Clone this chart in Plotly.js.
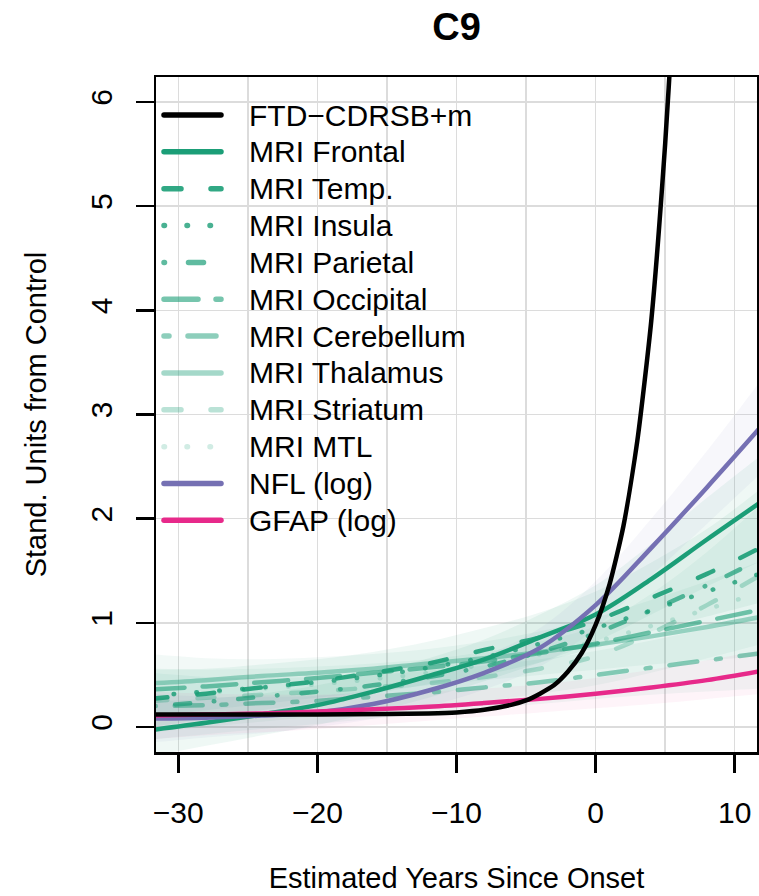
<!DOCTYPE html>
<html>
<head>
<meta charset="utf-8">
<script src="https://cdn.plot.ly/plotly-3.0.1.min.js"></script>
<style>
  html, body { margin: 0; padding: 0; background: #fff; }
  #chart { width: 759px; height: 896px; }
  .scatterlayer path.js-line, .shapelayer path { stroke-linecap: round; stroke-linejoin: round; }
</style>
</head>
<body>
<div id="chart"></div>
<script>
// ---------------- data ----------------
var years = [-32, -28, -24, -20, -16, -12, -8, -4, 0, 4, 8, 12];

var mriFrontal    = [-0.03, 0.04, 0.12, 0.21, 0.34, 0.49, 0.65, 0.86, 1.08, 1.42, 1.80, 2.17];
var mriTemp       = [0.27, 0.32, 0.38, 0.44, 0.52, 0.61, 0.74, 0.86, 1.02, 1.24, 1.47, 1.73];
var mriInsula     = [0.30, 0.34, 0.38, 0.43, 0.49, 0.57, 0.67, 0.80, 0.95, 1.12, 1.30, 1.48];
var mriParietal   = [0.20, 0.24, 0.29, 0.34, 0.40, 0.48, 0.58, 0.72, 0.90, 1.12, 1.36, 1.62];
var mriOccipital  = [0.36, 0.39, 0.43, 0.47, 0.52, 0.57, 0.63, 0.71, 0.80, 0.91, 1.02, 1.13];
var mriCerebellum = [0.20, 0.21, 0.23, 0.25, 0.29, 0.33, 0.38, 0.43, 0.50, 0.57, 0.64, 0.71];
var mriThalamus   = [0.42, 0.45, 0.49, 0.52, 0.56, 0.61, 0.66, 0.72, 0.79, 0.87, 0.96, 1.06];
var mriStriatum   = [0.25, 0.28, 0.31, 0.34, 0.38, 0.42, 0.48, 0.56, 0.68, 0.90, 1.17, 1.47];
var mriMTL        = [0.30, 0.33, 0.37, 0.41, 0.46, 0.52, 0.60, 0.70, 0.82, 0.97, 1.13, 1.30];
var nfl           = [0.08, 0.09, 0.11, 0.14, 0.22, 0.35, 0.52, 0.76, 1.17, 1.72, 2.30, 2.90];
var gfap          = [0.11, 0.12, 0.13, 0.15, 0.17, 0.195, 0.23, 0.27, 0.32, 0.38, 0.45, 0.54];

var cdrYears = [-32, -20, -15, -12, -10, -8, -6, -5, -4, -3, -2, -1, 0, 1, 2, 3, 4, 5, 5.5, 6];
var cdrsb    = [0.12, 0.12, 0.124, 0.13, 0.14, 0.165, 0.215, 0.255, 0.32, 0.40, 0.53, 0.71, 0.98, 1.37, 1.93, 2.75, 3.9, 5.6, 6.7, 7.9];

// credible bands (lower / upper)
var frontalLo = [-0.28, -0.18, -0.08, 0.02, 0.14, 0.28, 0.44, 0.62, 0.82, 1.08, 1.35, 1.60];
var frontalHi = [0.25, 0.27, 0.32, 0.40, 0.52, 0.66, 0.84, 1.08, 1.36, 1.76, 2.20, 2.62];
var tempLo    = [0.00, 0.08, 0.16, 0.24, 0.32, 0.41, 0.50, 0.62, 0.76, 0.92, 1.06, 1.20];
var tempHi    = [0.56, 0.56, 0.60, 0.65, 0.72, 0.82, 0.95, 1.10, 1.30, 1.58, 1.90, 2.30];
var occipLo   = [0.10, 0.16, 0.22, 0.28, 0.34, 0.40, 0.45, 0.50, 0.55, 0.60, 0.64, 0.68];
var occipHi   = [0.70, 0.66, 0.65, 0.67, 0.70, 0.75, 0.82, 0.92, 1.05, 1.22, 1.40, 1.60];
var cerebLo   = [-0.12, -0.07, -0.02, 0.03, 0.08, 0.13, 0.18, 0.22, 0.27, 0.31, 0.34, 0.37];
var cerebHi   = [0.52, 0.48, 0.47, 0.48, 0.50, 0.54, 0.59, 0.65, 0.73, 0.83, 0.94, 1.06];
var striatLo  = [-0.05, 0.00, 0.05, 0.10, 0.15, 0.20, 0.25, 0.32, 0.40, 0.52, 0.66, 0.80];
var striatHi  = [0.55, 0.55, 0.56, 0.58, 0.61, 0.65, 0.72, 0.82, 0.97, 1.28, 1.68, 2.15];
var nflLo     = [-0.15, -0.10, -0.06, 0.00, 0.08, 0.20, 0.36, 0.58, 0.95, 1.45, 1.95, 2.45];
var nflHi     = [0.32, 0.29, 0.29, 0.30, 0.36, 0.50, 0.68, 0.95, 1.40, 2.00, 2.65, 3.35];
var gfapLo    = [-0.12, -0.08, -0.05, -0.02, 0.02, 0.06, 0.10, 0.14, 0.18, 0.22, 0.27, 0.32];
var gfapHi    = [0.34, 0.32, 0.31, 0.31, 0.32, 0.34, 0.37, 0.41, 0.47, 0.55, 0.64, 0.74];

var seriesNames = ["FTD\u2212CDRSB+m", "MRI Frontal", "MRI Temp.", "MRI Insula", "MRI Parietal",
  "MRI Occipital", "MRI Cerebellum", "MRI Thalamus", "MRI Striatum", "MRI MTL", "NFL (log)", "GFAP (log)"];
var xTicks = [-30, -20, -10, 0, 10];
var yTicks = [0, 1, 2, 3, 4, 5, 6];

// ---------------- styles ----------------
function green(a) { return "rgba(27,158,119," + a + ")"; }
var DASH = {
  solid: "solid",
  dashed: "17px,30px",
  dotted: "0.5px,22.5px",
  dotdash: "0.5px,24px,15px,24px",
  longdash: "34px,18px",
  twodash: "5px,19px,28px,19px"
};
var styles = [
  {color: "#000000", dash: DASH.solid},
  {color: green(1.0), dash: DASH.solid},
  {color: green(0.9), dash: DASH.dashed},
  {color: green(0.8), dash: DASH.dotted},
  {color: green(0.7), dash: DASH.dotdash},
  {color: green(0.6), dash: DASH.longdash},
  {color: green(0.5), dash: DASH.twodash},
  {color: green(0.4), dash: DASH.solid},
  {color: green(0.3), dash: DASH.dashed},
  {color: green(0.2), dash: DASH.dotted},
  {color: "#7570b3", dash: DASH.solid},
  {color: "#e7298a", dash: DASH.solid}
];
var LW = 4.5;

var traces = [];
function band(lo, hi, fill) {
  traces.push({x: years, y: lo, mode: "lines", line: {width: 0, shape: "spline"}, hoverinfo: "skip", showlegend: false});
  traces.push({x: years, y: hi, mode: "lines", line: {width: 0, shape: "spline"}, fill: "tonexty", fillcolor: fill, hoverinfo: "skip", showlegend: false});
}
band(frontalLo, frontalHi, green(0.07));
band(tempLo, tempHi, green(0.07));
band(occipLo, occipHi, green(0.06));
band(cerebLo, cerebHi, green(0.06));
band(striatLo, striatHi, green(0.05));
band(nflLo, nflHi, "rgba(117,112,179,0.06)");
band(gfapLo, gfapHi, "rgba(231,41,138,0.05)");

var mriSeries = [mriFrontal, mriTemp, mriInsula, mriParietal, mriOccipital, mriCerebellum, mriThalamus, mriStriatum, mriMTL];
mriSeries.forEach(function (ys, i) {
  var s = styles[i + 1];
  traces.push({x: years, y: ys, name: seriesNames[i + 1], mode: "lines",
    line: {color: s.color, width: LW, dash: s.dash, shape: "spline", smoothing: 1}, showlegend: false});
});
traces.push({x: years, y: nfl, name: seriesNames[10], mode: "lines",
  line: {color: styles[10].color, width: LW, shape: "spline", smoothing: 1}, showlegend: false});
traces.push({x: years, y: gfap, name: seriesNames[11], mode: "lines",
  line: {color: styles[11].color, width: LW, shape: "spline", smoothing: 1}, showlegend: false});
traces.push({x: cdrYears, y: cdrsb, name: seriesNames[0], mode: "lines",
  line: {color: styles[0].color, width: LW, shape: "spline", smoothing: 0.6}, showlegend: false});

// ---------------- manual legend (R style, no box) ----------------
var FONT = "Liberation Sans, Arial, Helvetica, sans-serif";
var plotTop = 77, plotBottom = 752, plotLeft = 156, plotRight = 757;
var pw = plotRight - plotLeft, ph = plotBottom - plotTop;
var shapes = [], annotations = [];
seriesNames.forEach(function (nm, i) {
  var ypx = 115 + i * 36.85;
  var yp = (plotBottom - ypx) / ph;
  shapes.push({type: "line", xref: "paper", yref: "paper",
    x0: (164 - plotLeft) / pw, x1: (221 - plotLeft) / pw, y0: yp, y1: yp,
    line: {color: styles[i].color, width: 5.5, dash: styles[i].dash}});
  annotations.push({xref: "paper", yref: "paper", x: (247 - plotLeft) / pw, y: yp,
    xanchor: "left", yanchor: "middle", showarrow: false, text: nm,
    font: {family: FONT, size: 30, color: "#000"}});
});

var layout = {
  width: 759, height: 896,
  margin: {l: plotLeft, r: 759 - plotRight, t: plotTop, b: 896 - plotBottom, pad: 0},
  paper_bgcolor: "#ffffff", plot_bgcolor: "#ffffff",
  font: {family: FONT, size: 29, color: "#000"},
  title: {text: "<b>C9</b>", font: {family: FONT, size: 38, color: "#000"},
    x: 0.5, xref: "paper", y: 1 - 27 / 896, yref: "container", yanchor: "middle"},
  showlegend: false,
  xaxis: {
    range: [-31.6, 11.6], tickvals: xTicks, ticks: "outside", ticklen: 18, tickwidth: 2.5, tickcolor: "#000",
    showline: true, mirror: true, linecolor: "#000", linewidth: 2.5,
    showgrid: true, gridcolor: "#dcdcdc", gridwidth: 1.5, zeroline: false,
    minor: {dtick: 5, tick0: 0, showgrid: true, gridcolor: "#dcdcdc", gridwidth: 1.5, ticks: ""},
    tickfont: {family: FONT, size: 30}, ticklabelstandoff: 14,
    title: {text: "Estimated Years Since Onset", font: {family: FONT, size: 29}, standoff: 40},
    automargin: false, fixedrange: true
  },
  yaxis: {
    range: [-0.24, 6.24], tickvals: yTicks, ticks: "outside", ticklen: 18, tickwidth: 2.5, tickcolor: "#000",
    showline: true, mirror: true, linecolor: "#000", linewidth: 2.5,
    showgrid: true, gridcolor: "#dcdcdc", gridwidth: 1.5, zeroline: false,
    tickangle: -90, tickfont: {family: FONT, size: 30}, ticklabelstandoff: 12,
    title: {text: "Stand. Units from Control", font: {family: FONT, size: 29}, standoff: 30},
    automargin: false, fixedrange: true
  },
  shapes: shapes,
  annotations: annotations
};

Plotly.newPlot("chart", traces, layout, {displayModeBar: false, staticPlot: true});
</script>
</body>
</html>
